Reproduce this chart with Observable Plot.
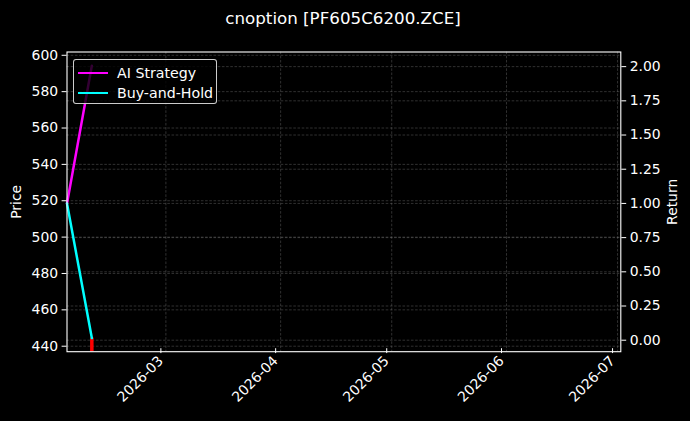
<!DOCTYPE html>
<html>
<head>
<meta charset="utf-8">
<script src="https://cdn.jsdelivr.net/npm/d3@7"></script>
<script src="https://cdn.jsdelivr.net/npm/@observablehq/plot@0.6"></script>
<style>
  html, body { margin: 0; padding: 0; background: #000; }
  #wrap { position: relative; width: 690px; height: 421px; background: #000; font-family: "DejaVu Sans", sans-serif; color: #fff; }
  #title { position: absolute; left: 0; width: 686px; top: 6px; text-align: center; font-size: 16.7px; line-height: 24px; color: #fff; }
  #legend { position: absolute; left: 73px; top: 58.5px; width: 144px; height: 45px; box-sizing: border-box;
            border: 1px solid rgba(255,255,255,0.8); border-radius: 3px; background: rgba(0,0,0,0.8); }
  .entry { position: absolute; left: 0; height: 20px; width: 140px; }
  .swatch { position: absolute; left: 4px; top: 9px; width: 30px; height: 2.6px; }
  .lbl { position: absolute; left: 43px; top: 1px; font-size: 14.2px; line-height: 18px; color: #fff; white-space: nowrap; }
</style>
</head>
<body>
<div id="wrap">
  <div id="chart"></div>
  <div id="title"></div>
  <div id="legend"></div>
</div>
<script>
// ---- data ----
const titleText = "cnoption [PF605C6200.ZCE]";
const dates = ["2026-02-02T07:00Z", "2026-02-09T00:00Z"];
const aiReturn = [1.0, 2.007];
const bhReturn = [1.0, 0.016];
const seriesNames = ["AI Strategy", "Buy-and-Hold"];
const seriesColors = ["magenta", "cyan"];
const signalDates = ["2026-02-09T00:00Z"];
const signalPrice = [444.5];
const priceTicks = [440, 460, 480, 500, 520, 540, 560, 580, 600];
const returnTicks = [0, 0.25, 0.5, 0.75, 1.0, 1.25, 1.5, 1.75, 2.0];
const xEnd = "2026-07-01T21:00Z";
const priceDomain = [436.98, 601.81];
const returnDomain = [-0.084, 2.107];

// ---- helpers ----
const toPrice = r => priceDomain[0] + (r - returnDomain[0]) * (priceDomain[1] - priceDomain[0]) / (returnDomain[1] - returnDomain[0]);
const fromPrice = p => returnDomain[0] + (p - priceDomain[0]) * (returnDomain[1] - returnDomain[0]) / (priceDomain[1] - priceDomain[0]);
const fmtRet = p => ((Math.round(fromPrice(p) * 100) / 100) || 0).toFixed(2);

const parsed = dates.map(d => new Date(d));
const rows = [];
[aiReturn, bhReturn].forEach((vals, k) => {
  vals.forEach((v, i) => rows.push({date: parsed[i], ret: v, series: seriesNames[k]}));
});
const signals = signalDates.map((d, i) => ({date: new Date(d), price: signalPrice[i]}));
const xDomain = [parsed[0], new Date(xEnd)];
const xTicks = d3.utcMonths(d3.utcMonth.ceil(xDomain[0]), d3.utcDay.offset(xDomain[1], 1)).filter(d => d <= xDomain[1]);

const gridStyle = {stroke: "#9a9a9a", strokeOpacity: 0.45, strokeWidth: 0.7, strokeDasharray: "2.6,1.6"};
const fs = 13.9;

const chart = Plot.plot({
  width: 690,
  height: 421,
  marginLeft: 66.5,
  marginRight: 69.7,
  marginTop: 51.5,
  marginBottom: 69.8,
  style: {background: "#000", color: "#fff", fontFamily: "DejaVu Sans, sans-serif", fontSize: fs + "px"},
  x: {type: "utc", domain: xDomain},
  y: {domain: priceDomain},
  color: {domain: seriesNames, range: seriesColors},
  marks: [
    Plot.gridX(xTicks, gridStyle),
    Plot.gridY(priceTicks, gridStyle),
    Plot.gridY(returnTicks.map(toPrice), gridStyle),
    Plot.ruleX(signals, {x: "date", y1: () => priceDomain[0], y2: "price", stroke: "red", strokeWidth: 3.5}),
    Plot.line(rows, {x: "date", y: d => toPrice(d.ret), z: "series", stroke: "series", strokeWidth: 2.5}),
    Plot.frame({stroke: "#fff", strokeWidth: 1.1}),
    Plot.axisY(priceTicks, {anchor: "left", tickSize: 4.9, tickPadding: 4, stroke: "#fff", fill: "#fff",
      fontSize: fs, label: "Price", labelAnchor: "center", labelArrow: "none", labelOffset: 56}),
    Plot.axisY(returnTicks.map(toPrice), {anchor: "right", tickSize: 4.9, tickPadding: 4, stroke: "#fff", fill: "#fff",
      fontSize: fs, tickFormat: fmtRet, label: "Return", labelAnchor: "center", labelArrow: "none", labelOffset: 56}),
    Plot.axisX(xTicks, {anchor: "bottom", tickSize: 4.9, tickPadding: 5, tickRotate: -45, stroke: "#fff", fill: "#fff",
      fontSize: fs, tickFormat: d3.utcFormat("%Y-%m"), label: null, dx: -5, dy: -3})
  ]
});
document.getElementById("chart").appendChild(chart);
document.getElementById("title").textContent = titleText;

const legend = document.getElementById("legend");
seriesNames.forEach((name, i) => {
  const e = document.createElement("div");
  e.className = "entry";
  e.style.top = (3 + i * 20) + "px";
  const s = document.createElement("div");
  s.className = "swatch";
  s.style.background = seriesColors[i];
  const t = document.createElement("div");
  t.className = "lbl";
  t.textContent = name;
  e.appendChild(s); e.appendChild(t);
  legend.appendChild(e);
});
</script>
</body>
</html>
